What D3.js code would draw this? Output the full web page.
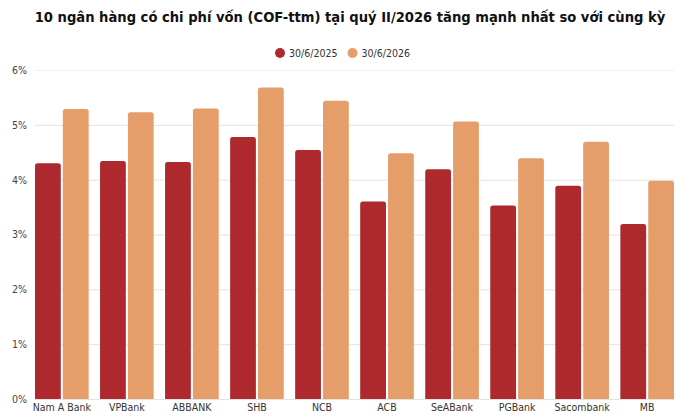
<!DOCTYPE html>
<html>
<head>
<meta charset="utf-8">
<script src="https://cdn.jsdelivr.net/npm/d3@7"></script>
<style>
  body { margin: 0; background: #fff; }
  svg { display: block; font-family: "DejaVu Sans Condensed", "DejaVu Sans", sans-serif; }
</style>
</head>
<body>
<div id="chart"></div>
<script>
const banks = ['Nam A Bank', 'VPBank', 'ABBANK', 'SHB', 'NCB', 'ACB', 'SeABank', 'PGBank', 'Sacombank', 'MB'];
const series = ['30/6/2025', '30/6/2026'];
const cof2025 = [4.30, 4.34, 4.32, 4.78, 4.54, 3.60, 4.19, 3.53, 3.89, 3.19];
const cof2026 = [5.29, 5.23, 5.30, 5.68, 5.44, 4.48, 5.06, 4.39, 4.69, 3.98];
const yTicks = [0, 1, 2, 3, 4, 5, 6];
const colors = ['#ae292d', '#e59e6a'];

const width = 700;
const height = 420;
const margin = { top: 70, right: 26, bottom: 21, left: 35 };

const rows = banks.map((b, i) => ({ bank: b, values: [cof2025[i], cof2026[i]] }));

const svg = d3.select('#chart')
  .append('svg')
  .attr('width', width)
  .attr('height', height);

const x = d3.scaleBand()
  .domain(banks)
  .range([margin.left, width - margin.right])
  .paddingInner(0.175)
  .paddingOuter(0);

const xInner = d3.scaleBand()
  .domain(series)
  .range([0, x.bandwidth()])
  .paddingInner(0.075);

const y = d3.scaleLinear()
  .domain([0, 6])
  .range([height - margin.bottom, margin.top]);

// title
svg.append('text')
  .attr('x', width / 2)
  .attr('y', 22)
  .attr('text-anchor', 'middle')
  .style('font-size', '14.6px')
  .style('font-weight', 'bold')
  .style('fill', '#111')
  .text('10 ngân hàng có chi phí vốn (COF-ttm) tại quý II/2026 tăng mạnh nhất so với cùng kỳ');

// legend
const legendX = [280, 352.5];
const legend = svg.append('g');
series.forEach((s, i) => {
  legend.append('circle')
    .attr('cx', legendX[i])
    .attr('cy', 53)
    .attr('r', 5)
    .attr('fill', colors[i]);
  legend.append('text')
    .attr('x', legendX[i] + 9)
    .attr('y', 53)
    .attr('dy', '0.35em')
    .style('font-size', '10.5px')
    .style('fill', '#333')
    .text(s);
});

// grid + y labels
const yAxis = d3.axisLeft(y)
  .tickValues(yTicks)
  .tickSize(-(width - margin.left - margin.right))
  .tickPadding(8)
  .tickFormat((d) => `${d}%`);

const gy = svg.append('g')
  .attr('transform', `translate(${margin.left},0)`)
  .call(yAxis);
gy.select('.domain').remove();
gy.selectAll('.tick line')
  .attr('stroke', '#e3e3e3')
  .attr('stroke-width', 1);
gy.selectAll('.tick line')
  .filter((d) => d === 6)
  .attr('stroke', '#f2f2f2');
gy.selectAll('.tick text')
  .style('font-size', '10.5px')
  .style('fill', '#444')
  .attr('font-family', '"DejaVu Sans Condensed", sans-serif');

// bars with rounded top corners
function topRounded(x0, y0, w, h, r) {
  const rr = Math.min(r, h, w / 2);
  return `M${x0},${y0 + h}V${y0 + rr}Q${x0},${y0} ${x0 + rr},${y0}`
    + `H${x0 + w - rr}Q${x0 + w},${y0} ${x0 + w},${y0 + rr}V${y0 + h}Z`;
}

const groups = svg.append('g')
  .selectAll('g')
  .data(rows)
  .join('g')
  .attr('transform', (d) => `translate(${x(d.bank)},0)`);

groups.selectAll('path')
  .data((d) => d.values.map((v, i) => ({ key: series[i], v, i })))
  .join('path')
  .attr('fill', (d) => colors[d.i])
  .attr('d', (d) => topRounded(xInner(d.key), y(d.v), xInner.bandwidth(), y(0) - y(d.v), 2.5));

// x axis labels
const xAxis = d3.axisBottom(x).tickSize(0).tickPadding(5);
const gx = svg.append('g')
  .attr('transform', `translate(0,${y(0)})`)
  .call(xAxis);
gx.select('.domain').remove();
gx.selectAll('.tick text')
  .style('font-size', '10.5px')
  .style('fill', '#333')
  .attr('font-family', '"DejaVu Sans Condensed", sans-serif');
</script>
</body>
</html>
